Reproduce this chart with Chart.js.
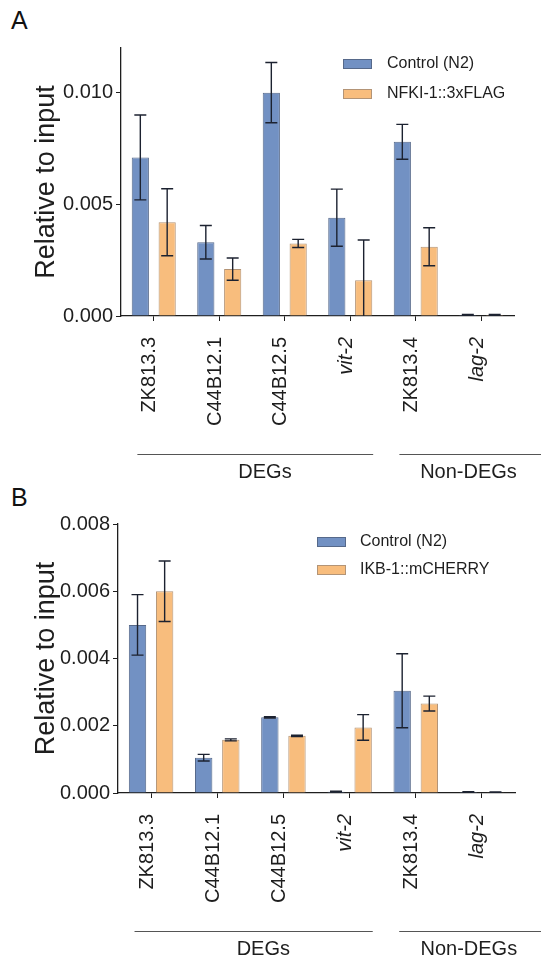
<!DOCTYPE html>
<html>
<head>
<meta charset="utf-8">
<script src="https://cdn.jsdelivr.net/npm/chart.js@4.4.1/dist/chart.umd.min.js"></script>
<style>
    body {
        margin: 0;
        background: #ffffff;
        width: 541px;
        height: 959px;
        position: relative;
        overflow: hidden;
        font-family: "Liberation Sans", Arial, sans-serif;
    }
    .panel { position: absolute; left: 0; }
    .letter { position: absolute; font-size: 25px; color: #111; line-height: 1; }
</style>
</head>
<body>
<div class="letter" style="left:11px; top:8px;">A</div>
<div class="panel" style="top:0;"><canvas id="chart-a" width="541" height="480"></canvas></div>
<div class="letter" style="left:11px; top:485px;">B</div>
<div class="panel" style="top:480px;"><canvas id="chart-b" width="541" height="479"></canvas></div>

<script>
// genes on the x axis
const genes = ["ZK813.3", "C44B12.1", "C44B12.5", "vit-2", "ZK813.4", "lag-2"];
const italicGenes = ["vit-2", "lag-2"];

// gene groups drawn under the axis
const groupLabels = ["DEGs", "Non-DEGs"];
const groupFirst = [0, 4];
const groupLast = [3, 5];

// panel A: NFKI-1 ChIP
const controlA = [0.0071, 0.0033, 0.0100, 0.0044, 0.0078, 0.00005];
const controlErrA = [0.0019, 0.00075, 0.00135, 0.00128, 0.00078, 0.00002];
const flagA = [0.0042, 0.0021, 0.00325, 0.0016, 0.0031, 0.00005];
const flagErrA = [0.0015, 0.0005, 0.00018, 0.0018, 0.00085, 0.00002];
const yTicksA = [0, 0.005, 0.010];

// panel B: IKB-1 ChIP
const controlB = [0.0050, 0.00105, 0.00225, 0.00004, 0.00304, 0.00003];
const controlErrB = [0.0009, 0.0001, 0.00002, 0.00001, 0.0011, 0.00001];
const cherryB = [0.0060, 0.00158, 0.0017, 0.00195, 0.00266, 0.00002];
const cherryErrB = [0.0009, 0.00003, 0.00002, 0.00038, 0.00022, 0.00001];
const yTicksB = [0, 0.002, 0.004, 0.006, 0.008];

const FONT = '"Liberation Sans", Arial, sans-serif';
const ink = "#1e1e1e";

const colors = {
    blue: "#7291c3",
    blueBorder: "#56698a",
    orange: "#f8bd7d",
    orangeBorder: "#b39476",
    error: "#1c2230",
};

// vertical error bars with caps, taken from dataset.errors
const errorBars = {
    id: "errorBars",
    afterDatasetsDraw(chart) {
        const ctx = chart.ctx;
        const y = chart.scales.y;
        const area = chart.chartArea;
        ctx.save();
        ctx.beginPath();
        ctx.rect(area.left, area.top, area.right - area.left, area.bottom - area.top);
        ctx.clip();
        ctx.strokeStyle = colors.error;
        ctx.lineWidth = 1.4;
        chart.data.datasets.forEach(function (ds, i) {
            const meta = chart.getDatasetMeta(i);
            meta.data.forEach(function (bar, j) {
                const v = ds.data[j];
                const e = ds.errors[j];
                const top = y.getPixelForValue(v + e);
                const bottom = y.getPixelForValue(v - e);
                ctx.beginPath();
                ctx.moveTo(bar.x, top);
                ctx.lineTo(bar.x, bottom);
                ctx.moveTo(bar.x - 6, top);
                ctx.lineTo(bar.x + 6, top);
                ctx.moveTo(bar.x - 6, bottom);
                ctx.lineTo(bar.x + 6, bottom);
                ctx.stroke();
            });
        });
        ctx.restore();
    },
};

// legend in the top right corner of the plot
const boxLegend = {
    id: "boxLegend",
    afterDraw(chart, args, opts) {
        const ctx = chart.ctx;
        ctx.save();
        ctx.font = "16px " + FONT;
        ctx.textBaseline = "middle";
        chart.data.datasets.forEach(function (ds, i) {
            const cy = opts.y + i * opts.rowGap;
            ctx.fillStyle = ds.backgroundColor;
            ctx.fillRect(opts.x, cy - 5, 29, 10);
            ctx.strokeStyle = ds.borderColor;
            ctx.lineWidth = 1;
            ctx.strokeRect(opts.x + 0.5, cy - 4.5, 28, 9);
            ctx.fillStyle = ink;
            ctx.fillText(ds.label, opts.x + opts.textGap, cy);
        });
        ctx.restore();
    },
};

// group lines and labels below the gene names
const geneGroups = {
    id: "geneGroups",
    afterDraw(chart, args, opts) {
        const ctx = chart.ctx;
        const x = chart.scales.x;
        const cw = x.getPixelForValue(1) - x.getPixelForValue(0);
        const lineY = chart.chartArea.bottom + opts.drop;
        ctx.save();
        ctx.strokeStyle = "#555";
        ctx.lineWidth = 1;
        ctx.fillStyle = ink;
        ctx.font = "20px " + FONT;
        ctx.textAlign = "center";
        ctx.textBaseline = "middle";
        groupLabels.forEach(function (label, g) {
            const x0 = x.getPixelForValue(groupFirst[g]) - 0.25 * cw;
            const x1 = g === groupLabels.length - 1
                ? chart.width
                : x.getPixelForValue(groupLast[g]) + 0.35 * cw;
            ctx.beginPath();
            ctx.moveTo(x0, lineY + 0.5);
            ctx.lineTo(x1, lineY + 0.5);
            ctx.stroke();
            const mid = (x.getPixelForValue(groupFirst[g]) + x.getPixelForValue(groupLast[g])) / 2;
            ctx.fillText(label, mid + opts.labelShift[g], lineY + opts.textGap);
        });
        ctx.restore();
    },
};

function createPanel(canvasId, cfg) {
    const canvas = document.getElementById(canvasId);
    if (!canvas) return;

    new Chart(canvas, {
        type: "bar",
        data: {
            labels: genes,
            datasets: [
                {
                    label: "Control (N2)",
                    data: cfg.control,
                    errors: cfg.controlErr,
                    backgroundColor: colors.blue,
                    borderColor: colors.blueBorder,
                    borderWidth: 1,
                },
                {
                    label: cfg.tagLabel,
                    data: cfg.tagged,
                    errors: cfg.taggedErr,
                    backgroundColor: colors.orange,
                    borderColor: colors.orangeBorder,
                    borderWidth: 1,
                },
            ],
        },
        options: {
            responsive: false,
            animation: false,
            categoryPercentage: 0.82,
            barPercentage: 0.64,
            layout: {
                padding: { left: 28, right: cfg.padRight, top: cfg.padTop, bottom: 0 },
            },
            scales: {
                x: {
                    grid: {
                        display: true,
                        offset: false,
                        drawOnChartArea: false,
                        drawTicks: true,
                        tickLength: 5,
                        color: ink,
                    },
                    border: { display: true, color: ink, width: 1.3 },
                    ticks: {
                        minRotation: 90,
                        maxRotation: 90,
                        autoSkip: false,
                        padding: 16,
                        labelOffset: -4,
                        color: ink,
                        font: function (c) {
                            const name = genes[c.index];
                            return {
                                family: FONT,
                                size: 20,
                                style: italicGenes.includes(name) ? "italic" : "normal",
                            };
                        },
                    },
                    afterFit: function (scale) {
                        scale.height = cfg.xHeight;
                    },
                },
                y: {
                    min: 0,
                    max: cfg.yMax,
                    grid: {
                        display: true,
                        drawOnChartArea: false,
                        drawTicks: true,
                        tickLength: 5,
                        color: ink,
                    },
                    border: { display: true, color: ink, width: 1.3 },
                    ticks: {
                        padding: 3,
                        color: ink,
                        font: { family: FONT, size: 20 },
                        callback: function (v) {
                            return Number(v).toFixed(3);
                        },
                    },
                    afterBuildTicks: function (scale) {
                        scale.ticks = cfg.yTicks.map(function (v) { return { value: v }; });
                    },
                    afterFit: function (scale) {
                        scale.width = cfg.yWidth;
                    },
                    title: {
                        display: true,
                        text: "Relative to input",
                        color: ink,
                        font: { family: FONT, size: 27 },
                        padding: { top: 2, bottom: 0 },
                    },
                },
            },
            plugins: {
                legend: { display: false },
                tooltip: { enabled: false },
                boxLegend: { x: cfg.legendX, y: cfg.legendY, rowGap: cfg.legendGap, textGap: cfg.legendTextGap },
                geneGroups: { drop: 138, textGap: 18, labelShift: [13, 20] },
            },
        },
        plugins: [errorBars, boxLegend, geneGroups],
    });
}

createPanel("chart-a", {
    control: controlA,
    controlErr: controlErrA,
    tagged: flagA,
    taggedErr: flagErrA,
    tagLabel: "NFKI-1::3xFLAG",
    yMax: 0.012,
    yTicks: yTicksA,
    yWidth: 93,
    padTop: 48,
    padRight: 27,
    xHeight: 164,
    legendX: 343,
    legendY: 64,
    legendGap: 30,
    legendTextGap: 44,
});

createPanel("chart-b", {
    control: controlB,
    controlErr: controlErrB,
    tagged: cherryB,
    taggedErr: cherryErrB,
    tagLabel: "IKB-1::mCHERRY",
    yMax: 0.008,
    yTicks: yTicksB,
    yWidth: 90,
    padTop: 44,
    padRight: 26,
    xHeight: 166,
    legendX: 317,
    legendY: 62,
    legendGap: 28,
    legendTextGap: 43,
});
</script>
</body>
</html>
